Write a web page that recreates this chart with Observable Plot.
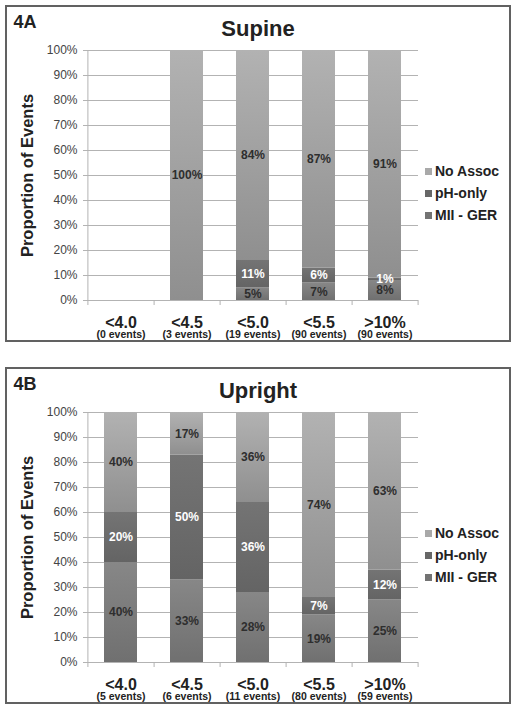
<!DOCTYPE html>
<html><head><meta charset="utf-8">
<script src="https://cdn.jsdelivr.net/npm/d3@7"></script>
<script src="https://cdn.jsdelivr.net/npm/@observablehq/plot@0.6"></script>
<style>
body{margin:0;background:#fff;font-family:"Liberation Sans",Arial,sans-serif;}
.panel{position:absolute;left:5px;width:502px;height:333px;border:2px solid #616161;background:#fff;}
.panel svg{position:absolute;left:0;top:0;overflow:visible;}
.lg{position:absolute;left:418px;height:16px;line-height:16px;font-weight:bold;font-size:14px;color:#222;white-space:nowrap;}
.lg .sw{position:absolute;left:0;top:4.5px;width:7px;height:7px;}
.lg .tx{position:absolute;left:10px;top:0;}
</style>
</head><body>
<svg width="0" height="0" style="position:absolute">
<defs>
<linearGradient id="gNo" x1="0" y1="0" x2="0" y2="1"><stop offset="0" stop-color="#b2b2b2"/><stop offset="1" stop-color="#8f8f8f"/></linearGradient>
<linearGradient id="gPh" x1="0" y1="0" x2="0" y2="1"><stop offset="0" stop-color="#747474"/><stop offset="1" stop-color="#646464"/></linearGradient>
<linearGradient id="gMii" x1="0" y1="0" x2="0" y2="1"><stop offset="0" stop-color="#878787"/><stop offset="1" stop-color="#707070"/></linearGradient>
</defs>
</svg>
<div id="A" class="panel" style="top:5px"></div>
<div id="B" class="panel" style="top:367px"></div>
<script>
// ---- data ----
const categories = ["<4.0", "<4.5", "<5.0", "<5.5", ">10%"];
const series = ["MII - GER", "pH-only", "No Assoc"];
const legendOrder = ["No Assoc", "pH-only", "MII - GER"];
const yTicks = [0, 10, 20, 30, 40, 50, 60, 70, 80, 90, 100];

const supineEvents = ["(0 events)", "(3 events)", "(19 events)", "(90 events)", "(90 events)"];
const supineMII = [0, 0, 5, 7, 8];
const supinePH  = [0, 0, 11, 6, 1];
const supineNo  = [0, 100, 84, 87, 91];

const uprightEvents = ["(5 events)", "(6 events)", "(11 events)", "(80 events)", "(59 events)"];
const uprightMII = [40, 33, 28, 19, 25];
const uprightPH  = [20, 50, 36, 7, 12];
const uprightNo  = [40, 17, 36, 74, 63];

// ---- styles ----
const barFill = {"MII - GER": "url(#gMii)", "pH-only": "url(#gPh)", "No Assoc": "url(#gNo)"};
const labelFill = {"MII - GER": "#2e2e2e", "pH-only": "#ffffff", "No Assoc": "#2e2e2e"};
const swatch = {"MII - GER": "#737373", "pH-only": "#676767", "No Assoc": "#a9a9a9"};

function drawPanel(id, tag, title, mii, ph, no, events) {
  const rows = [];
  categories.forEach((c, i) => {
    rows.push({cat: c, series: series[0], value: mii[i]});
    rows.push({cat: c, series: series[1], value: ph[i]});
    rows.push({cat: c, series: series[2], value: no[i]});
  });
  const W = 502, H = 333, ml = 80, mr = 91, mt = 43, mb = 40;
  const half = (W - ml - mr) / categories.length / 2;
  const grid = "#b3b3b3";
  const chart = Plot.plot({
    width: W, height: H,
    marginLeft: ml, marginRight: mr, marginTop: mt, marginBottom: mb,
    style: {fontFamily: "Liberation Sans, Arial, sans-serif", background: "transparent", overflow: "visible"},
    x: {domain: categories, paddingInner: 0.5, paddingOuter: 0.25, axis: null},
    y: {domain: [0, 100], axis: null},
    color: {type: "identity"},
    marks: [
      Plot.gridY(yTicks, {stroke: grid, strokeOpacity: 1}),
      Plot.axisY({ticks: yTicks, tickSize: 4, tickPadding: 6, stroke: grid, fill: "#444",
                  fontSize: 12, tickFormat: d => d + "%", label: null}),
      Plot.ruleX([categories[0]], {x: d => d, dx: -half, stroke: grid}),
      Plot.axisX({ticks: categories, tickSize: 5, stroke: grid, fill: "none", tickFormat: () => "", dx: half, label: null}),
      Plot.axisX({ticks: [categories[0]], tickSize: 5, stroke: grid, fill: "none", tickFormat: () => "", dx: -half, label: null}),
      Plot.barY(rows, {x: "cat", y: "value", z: "series", fill: d => barFill[d.series]}),
      Plot.text(rows.filter(d => d.value > 0), Plot.stackY({
        x: "cat", y: "value", z: "series", text: d => d.value + "%",
        fill: d => labelFill[d.series], fontSize: 12, fontWeight: "bold"
      })),
      Plot.text(categories, {x: d => d, text: d => d, frameAnchor: "bottom", lineAnchor: "middle", dy: 22.5,
                             fontSize: 16, fontWeight: "bold", fill: "#222"}),
      Plot.text(categories, {x: d => d, text: (d, i) => events[i], frameAnchor: "bottom", lineAnchor: "middle", dy: 34.5,
                             fontSize: 10.5, fontWeight: "bold", fill: "#222"}),
      Plot.text(["Proportion of Events"], {text: d => d, frameAnchor: "left", textAnchor: "middle", lineAnchor: "middle",
                             dx: -60, rotate: -90, fontSize: 16.5, fontWeight: "bold", fill: "#222"}),
      Plot.text([title], {text: d => d, frameAnchor: "top", textAnchor: "middle", lineAnchor: "middle", dx: 5, dy: -22,
                             fontSize: 22, fontWeight: "bold", fill: "#222"}),
      Plot.text([tag], {text: d => d, frameAnchor: "top-left", textAnchor: "start", lineAnchor: "middle", dx: -74, dy: -28.5,
                             fontSize: 18, fontWeight: "bold", fill: "#222"})
    ]
  });
  const host = document.getElementById(id);
  host.appendChild(chart);
  const ys = [164, 186, 208];
  legendOrder.forEach((s, i) => {
    const row = document.createElement("div");
    row.className = "lg";
    row.style.top = (ys[i] - 8) + "px";
    const sw = document.createElement("span");
    sw.className = "sw";
    sw.style.background = swatch[s];
    const tx = document.createElement("span");
    tx.className = "tx";
    tx.textContent = s;
    row.appendChild(sw);
    row.appendChild(tx);
    host.appendChild(row);
  });
}

drawPanel("A", "4A", "Supine", supineMII, supinePH, supineNo, supineEvents);
drawPanel("B", "4B", "Upright", uprightMII, uprightPH, uprightNo, uprightEvents);
</script>
</body></html>
